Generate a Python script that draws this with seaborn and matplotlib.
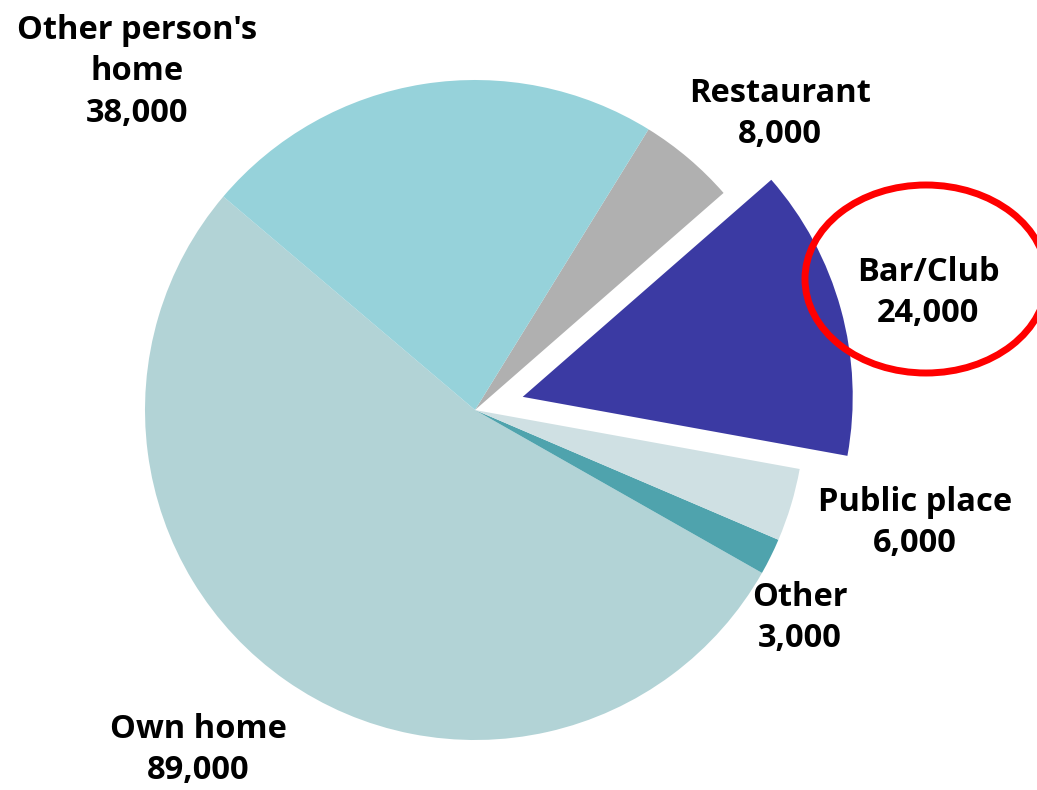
import matplotlib
matplotlib.use("Agg")
import matplotlib.pyplot as plt
from matplotlib.patches import Ellipse
import seaborn as sns

# slices in counter-clockwise order, starting from the top-left edge of "Own home"
categories = ["Own home", "Other", "Public place", "Bar/Club", "Restaurant", "Other person's home"]
values = [89000, 3000, 6000, 24000, 8000, 38000]
label_text = ["Own home\n89,000", "Other\n3,000", "Public place\n6,000",
              "Bar/Club\n24,000", "Restaurant\n8,000", "Other person's\nhome\n38,000"]
colors = ["#b2d3d6", "#4fa3ad", "#cfe0e3", "#3b3aa3", "#b0b0b0", "#96d2da"]
explode_frac = [0, 0, 0, 0.15, 0, 0]

sns.set_theme(style="white")
plt.rcParams['font.family'] = ['Open Sans', 'DejaVu Sans']

W, H = 1037, 790
fig = plt.figure(figsize=(W / 100, H / 100), dpi=100)
ax = fig.add_axes([0, 0, 1, 1])

# pixel-like coordinates, y measured upward
cx, cy, r = 475, H - 410, 330
# pie's explode is in data units, not a fraction of the radius
ax.pie(values, colors=colors, explode=[e * r for e in explode_frac], startangle=139.7,
       counterclock=True, center=(cx, cy), radius=r,
       wedgeprops=dict(linewidth=0))

# label positions (text centres, pixels from top-left)
label_pos = [(198, 750), (800, 618), (915, 523), (928, 293), (780, 114), (137, 72)]
for txt, (x, y) in zip(label_text, label_pos):
    ax.text(x, H - y, txt, ha="center", va="center", fontsize=23.5,
            fontweight="bold", color="black", linespacing=1.35)

# red ring round the Bar/Club label
ax.add_patch(Ellipse((926, H - 279), 242, 188, fill=False, edgecolor="#ff0000",
                     linewidth=5, clip_on=False))

ax.set_xlim(0, W)
ax.set_ylim(0, H)
ax.set_aspect("equal")
ax.axis("off")

fig.savefig("out.png", dpi=100)
